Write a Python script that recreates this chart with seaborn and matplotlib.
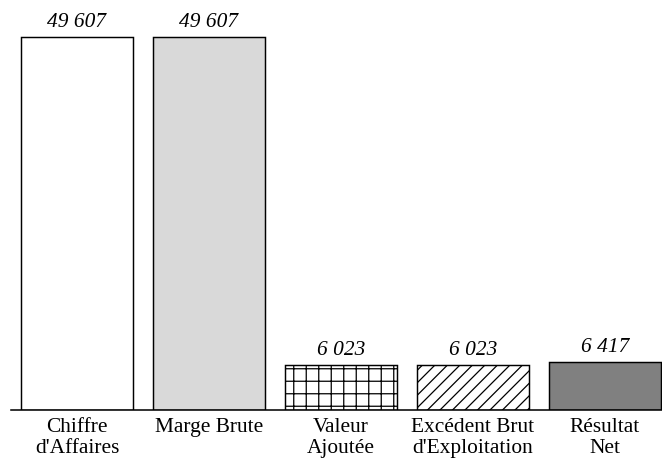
import matplotlib
matplotlib.use("Agg")
import matplotlib.pyplot as plt
import seaborn as sns

# Data
categories = ["Chiffre\nd'Affaires", "Marge Brute", "Valeur\nAjoutée",
              "Excédent Brut\nd'Exploitation", "Résultat\nNet"]
values = [49607, 49607, 6023, 6023, 6417]
bar_colors = ["#ffffff", "#d9d9d9", "#ffffff", "#ffffff", "#808080"]
hatches = ["", "", "+", "//", ""]

sns.set_style("white")
plt.rcParams['font.family'] = ['Liberation Serif', 'DejaVu Serif']
plt.rcParams['text.color'] = 'black'
plt.rcParams['xtick.color'] = 'black'
plt.rcParams['hatch.linewidth'] = 1.2
plt.rcParams['hatch.color'] = 'black'

DPI = 75
fig = plt.figure(figsize=(662 / DPI, 460 / DPI), dpi=DPI)
ax = fig.add_axes([11 / 662, 50 / 460, 651 / 662, 410 / 460])

sns.barplot(x=categories, y=values, hue=categories, palette=bar_colors,
            order=categories, hue_order=categories, legend=False,
            width=0.85, saturation=1, edgecolor='black', linewidth=1.4, ax=ax)

# hatching and value labels
for cont, h, v in zip(ax.containers, hatches, values):
    for p in cont:
        p.set_hatch(h)
    ax.bar_label(cont, labels=[f"{v:,}".replace(",", " ")], padding=5,
                 fontsize=20.5, fontstyle='italic', color='black')

ax.set_xlim(-0.5, -0.5 + 651 / 132)
ax.set_ylim(0, 49607 * 410 / 373)
ax.set_yticks([])
ax.set_xlabel("")
ax.set_ylabel("")
ax.tick_params(axis='x', length=0, pad=8, labelsize=20.5, labelcolor='black')
for lbl in ax.get_xticklabels():
    lbl.set_linespacing(1.15)

for s in ["top", "left", "right"]:
    ax.spines[s].set_visible(False)
ax.spines["bottom"].set_color("black")
ax.spines["bottom"].set_linewidth(1.5)

fig.savefig("out.png", dpi=DPI)
